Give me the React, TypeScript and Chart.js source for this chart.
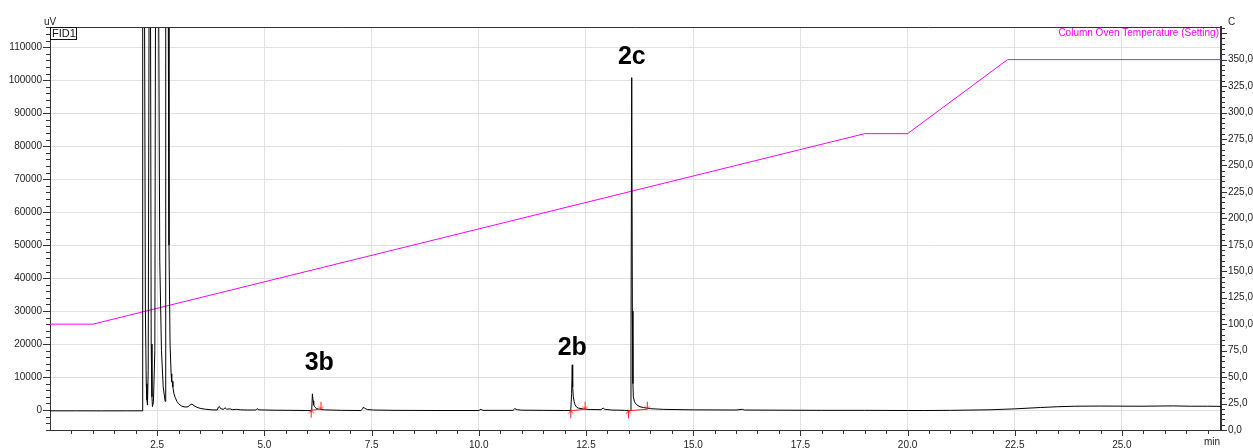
import React, { useEffect, useRef } from 'react';
import { Chart, registerables } from 'chart.js';

Chart.register(...registerables);

// ---- Data ----
const chromTime = [
  0.0, 0.6, 1.2, 1.8, 2.15, 2.162, 2.203, 2.225, 2.245, 2.262, 2.273,
  2.29, 2.312, 2.343, 2.36, 2.378, 2.39, 2.412, 2.445, 2.462, 2.532, 2.56,
  2.6, 2.64, 2.686, 2.695, 2.703, 2.756, 2.775, 2.8, 2.825, 2.836, 2.842,
  2.85, 2.865, 2.89, 2.92, 2.96, 3.0, 3.07, 3.15, 3.22, 3.26, 3.31, 3.36,
  3.43, 3.52, 3.62, 3.78, 3.9, 3.93, 3.95, 3.98, 4.05, 4.08, 4.12, 4.2,
  4.25, 4.35, 4.45, 4.6, 4.8, 4.83, 4.87, 5.2, 5.6, 6.0, 6.09, 6.105, 6.12,
  6.135, 6.15, 6.17, 6.21, 6.28, 6.4, 6.8, 7.25, 7.29, 7.31, 7.34, 7.4,
  7.55, 8.0, 9.0, 10.0, 10.05, 10.1, 10.8, 10.84, 10.9, 11.0, 11.5, 12.0,
  12.145, 12.165, 12.18, 12.19, 12.205, 12.225, 12.245, 12.28, 12.32, 12.44,
  12.6, 12.85, 12.9, 12.94, 13.1, 13.4, 13.535, 13.55, 13.567, 13.582,
  13.595, 13.605, 13.63, 13.68, 13.76, 13.84, 14.0, 14.3, 15.0, 16.0, 16.15,
  16.2, 17.0, 18.0, 19.0, 20.0, 20.4, 21.0, 21.9, 22.5, 23.1, 23.5, 23.9,
  24.5, 25.4, 26.2, 26.6, 27.0, 27.31,
];
const chromSignal = [
  -250, -250, -260, -250, -240, 130000, 130000, 30000, 8000, 3000, 1500,
  12000, 130000, 130000, 20000, 4000, 1000, 2500, 18000, 130000, 130000, 45000,
  18000, 7000, 2600, 15000, 130000, 130000, 50000, 20000, 11000, 10200, 8600,
  8700, 7000, 5000, 3800, 2600, 1900, 1200, 900, 1000, 1500, 1800, 1300,
  800, 450, 250, 50, 0, 900, 1100, 400, 200, 700, 250, 350,
  100, 200, 50, 0, 0, 400, 50, -50, -100, -150, -150, 300, 4900,
  2800, 1600, 1000, 500, 200, 50, -100, -150, 300, 900, 500, 150,
  0, -100, -150, -150, 200, -100, -100, 400, 100, -50, -100, -150,
  -150, 5000, 13700, 7000, 4000, 2600, 1600, 900, 600, 300,
  150, 100, 600, 200, 0, -100, -150, 20000, 100800, 30000,
  8000, 4000, 2500, 1600, 1000, 750, 400, 200, 50, 0, 200,
  0, -50, -100, -100, -150, -150, -100, 60, 350, 760, 1000, 1150,
  1200, 1150, 1250, 1150, 1150, 1100,
];

const tempTime = [0, 1.0, 19.0, 20.0, 22.333, 27.31];
const tempValue = [100, 100, 280, 280, 350, 350];

const peakStartTime = [6.09, 12.145, 13.49];
const peakStartSignal = [-50, -250, -250];
const peakEndTime = [6.32, 12.48, 13.93];
const peakEndSignal = [250, 250, 250];

const peakNames = ['3b', '2b', '2c'];
const peakLabelTime = [6.28, 12.18, 13.57];
const peakLabelSignal = [14200, 18800, 106900];

const xTickValues = [2.5, 5, 7.5, 10, 12.5, 15, 17.5, 20, 22.5, 25];
const yTickValues = [0, 10000, 20000, 30000, 40000, 50000, 60000, 70000, 80000, 90000, 100000, 110000];
const y2TickValues = [0, 25, 50, 75, 100, 125, 150, 175, 200, 225, 250, 275, 300, 325, 350];

const X_MIN = 0, X_MAX = 27.31;
const Y_MIN = -6060, Y_MAX = 116150;
const Y2_MIN = 0, Y2_MAX = 380.8;

const FONT = '"Liberation Sans", Arial, sans-serif';
const MAGENTA = '#ff00ff';
const RED = '#ff2020';

function makeArrow(up: boolean): HTMLCanvasElement {
  const c = document.createElement('canvas');
  c.width = 9;
  c.height = 17;
  const g = c.getContext('2d')!;
  g.strokeStyle = RED;
  g.lineWidth = 1;
  g.beginPath();
  if (up) {
    g.moveTo(4.5, 8.5); g.lineTo(4.5, 16);
    g.moveTo(4.5, 8.5); g.lineTo(2, 11.5);
    g.moveTo(4.5, 8.5); g.lineTo(7, 11.5);
  } else {
    g.moveTo(4.5, 1); g.lineTo(4.5, 8.5);
    g.moveTo(4.5, 8.5); g.lineTo(2, 5.5);
    g.moveTo(4.5, 8.5); g.lineTo(7, 5.5);
  }
  g.stroke();
  return c;
}

const fmtComma = (v: number) => v.toFixed(1).replace('.', ',');

const decorPlugin = {
  id: 'decor',
  afterDraw(chart: any) {
    const { ctx, chartArea: a, scales } = chart;
    const xs = scales.x, ys = scales.y, y2s = scales.y2;
    ctx.save();
    ctx.strokeStyle = '#333';
    ctx.lineWidth = 1;
    ctx.beginPath();
    const top = Math.round(a.top) + 0.5;
    ctx.moveTo(a.left, top);
    ctx.lineTo(a.right, top);
    // x ticks (minor every 0.5, major every 2.5)
    for (let i = 1; i * 0.5 <= xs.max; i++) {
      const px = Math.round(xs.getPixelForValue(i * 0.5)) + 0.5;
      const len = i % 5 === 0 ? 6 : 4;
      ctx.moveTo(px, a.bottom);
      ctx.lineTo(px, a.bottom + len);
    }
    // left ticks (minor every 2000)
    for (let k = -3; k * 2000 <= ys.max; k++) {
      const v = k * 2000;
      const py = Math.round(ys.getPixelForValue(v)) + 0.5;
      const len = v % 10000 === 0 ? 7 : 4;
      ctx.moveTo(a.left - len, py);
      ctx.lineTo(a.left, py);
    }
    // right ticks (minor every 5)
    for (let k = 0; k * 5 <= y2s.max; k++) {
      const py = Math.round(y2s.getPixelForValue(k * 5)) + 0.5;
      const len = k % 5 === 0 ? 6 : 4;
      ctx.moveTo(a.right, py);
      ctx.lineTo(a.right + len, py);
    }
    ctx.stroke();

    // FID1 box
    ctx.strokeStyle = '#111';
    ctx.strokeRect(Math.round(a.left) + 0.5, top, 26, 12);
    ctx.fillStyle = '#111';
    ctx.font = `11px ${FONT}`;
    ctx.textAlign = 'left';
    ctx.textBaseline = 'middle';
    ctx.fillText('FID1', a.left + 2, top + 6.5);

    // axis unit labels
    ctx.font = `10px ${FONT}`;
    ctx.textBaseline = 'alphabetic';
    ctx.fillStyle = '#222';
    ctx.textAlign = 'center';
    ctx.fillText('uV', a.left, 25);
    ctx.textAlign = 'left';
    ctx.fillText('C', a.right + 7, 25);
    ctx.textAlign = 'right';
    ctx.fillText('min', a.right - 1, 445);

    // legend text
    ctx.fillStyle = MAGENTA;
    ctx.textAlign = 'right';
    ctx.textBaseline = 'middle';
    ctx.fillText('Column Oven Temperature (Setting)', a.right - 2, 33);

    // peak labels
    ctx.fillStyle = '#000';
    ctx.font = `bold 25px ${FONT}`;
    ctx.textAlign = 'center';
    ctx.textBaseline = 'middle';
    peakNames.forEach((name, i) => {
      ctx.fillText(name, xs.getPixelForValue(peakLabelTime[i]), ys.getPixelForValue(peakLabelSignal[i]));
    });
    ctx.restore();
  },
};

export default function App() {
  const ref = useRef<HTMLCanvasElement | null>(null);
  useEffect(() => {
    if (!ref.current) return;
    const up = makeArrow(true);
    const down = makeArrow(false);
    const chromData = chromTime.map((t, i) => ({ x: t, y: chromSignal[i] }));
    const tempData = tempTime.map((t, i) => ({ x: t, y: tempValue[i] }));
    const integSets = peakStartTime.map((t, i) => ({
      label: 'integration ' + peakNames[i],
      data: [
        { x: t, y: peakStartSignal[i] },
        { x: peakEndTime[i], y: peakEndSignal[i] },
      ],
      yAxisID: 'y',
      borderColor: RED,
      borderWidth: 1,
      pointStyle: [up, down] as any,
      pointRadius: 4,
      pointHoverRadius: 4,
      fill: false,
    }));
    const chart = new Chart(ref.current, {
      type: 'line',
      data: {
        datasets: [
          ...integSets,
          {
            label: 'FID1',
            data: chromData,
            yAxisID: 'y',
            borderColor: '#000',
            borderWidth: 1,
            pointRadius: 0,
            tension: 0,
            fill: false,
          },
          {
            label: 'Column Oven Temperature (Setting)',
            data: tempData,
            yAxisID: 'y2',
            borderColor: MAGENTA,
            borderWidth: 1,
            pointRadius: 0,
            tension: 0,
            fill: false,
          },
        ] as any,
      },
      options: {
        responsive: false,
        animation: false,
        devicePixelRatio: 1,
        layout: { padding: { top: 27, left: 0, right: 0, bottom: 0 } },
        plugins: {
          legend: { display: false },
          tooltip: { enabled: false },
        },
        events: [],
        scales: {
          x: {
            type: 'linear',
            position: 'bottom',
            min: X_MIN,
            max: X_MAX,
            afterBuildTicks: (s: any) => { s.ticks = xTickValues.map((v) => ({ value: v })); },
            afterFit: (s: any) => { s.height = 18; },
            grid: { color: '#e2e2e2', drawTicks: false },
            border: { display: true, color: '#333', width: 1 },
            ticks: {
              autoSkip: false,
              maxRotation: 0,
              padding: 9,
              color: '#222',
              font: { size: 10, family: FONT },
              callback: (v: any) => fmtComma(Number(v)),
            },
          },
          y: {
            type: 'linear',
            position: 'left',
            min: Y_MIN,
            max: Y_MAX,
            afterBuildTicks: (s: any) => { s.ticks = yTickValues.map((v) => ({ value: v })); },
            afterFit: (s: any) => { s.width = 50; },
            grid: { color: '#e2e2e2', drawTicks: false },
            border: { display: true, color: '#333', width: 1 },
            ticks: {
              autoSkip: false,
              padding: 8,
              color: '#222',
              font: { size: 10, family: FONT },
              callback: (v: any) => String(v),
            },
          },
          y2: {
            type: 'linear',
            position: 'right',
            min: Y2_MIN,
            max: Y2_MAX,
            afterBuildTicks: (s: any) => { s.ticks = y2TickValues.map((v) => ({ value: v })); },
            afterFit: (s: any) => { s.width = 32; },
            grid: { drawOnChartArea: false, drawTicks: false },
            border: { display: true, color: '#333', width: 2 },
            ticks: {
              autoSkip: false,
              padding: 7,
              color: '#222',
              font: { size: 10, family: FONT },
              callback: (v: any) => fmtComma(Number(v)),
            },
          },
        },
      } as any,
      plugins: [decorPlugin],
    });
    return () => chart.destroy();
  }, []);
  return (
    <div style={{ position: 'fixed', left: 0, top: 0, width: 1253, height: 448, background: '#fff' }}>
      <canvas ref={ref} width={1253} height={448} style={{ display: 'block', width: 1253, height: 448 }} />
    </div>
  );
}
